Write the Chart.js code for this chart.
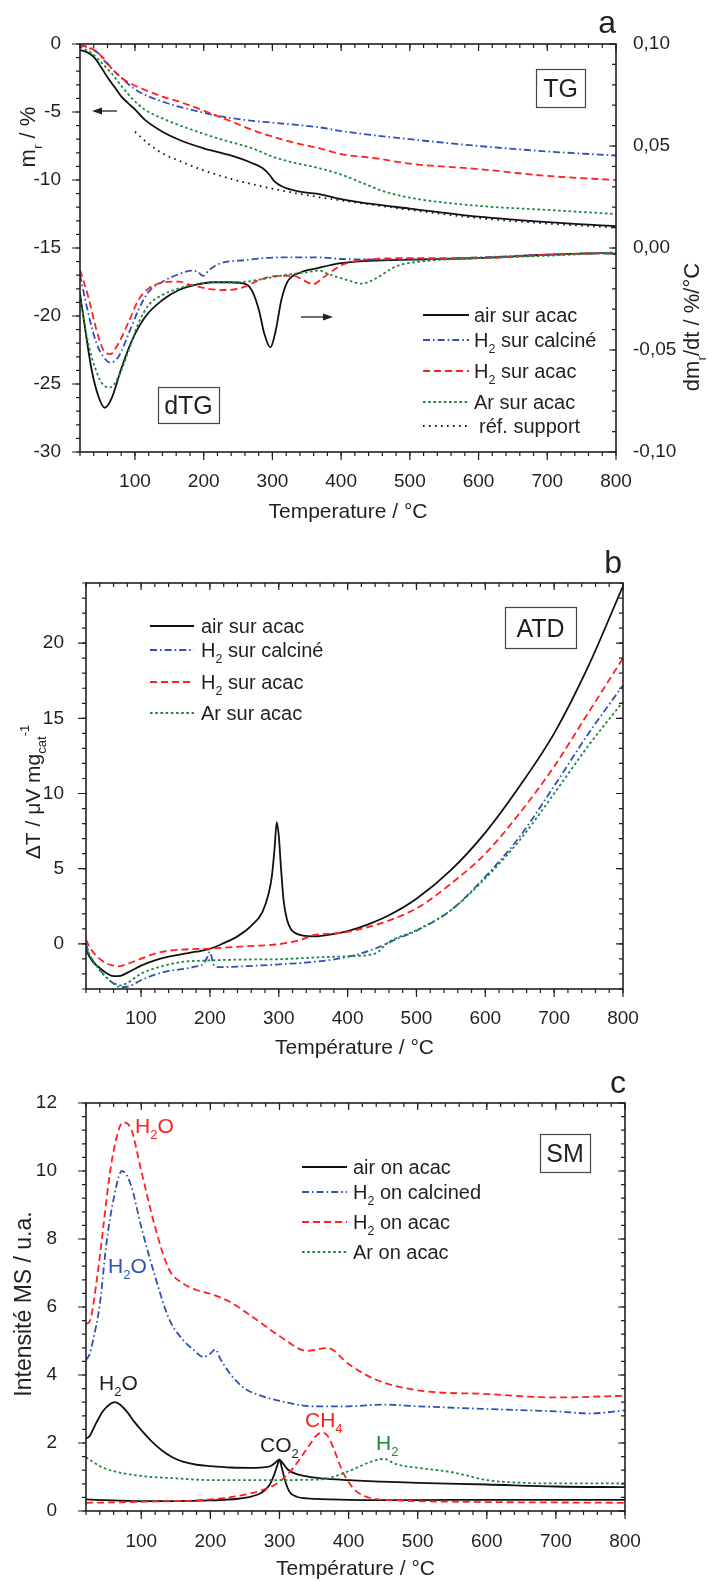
<!DOCTYPE html>
<html><head><meta charset="utf-8">
<script src="https://cdn.jsdelivr.net/npm/chart.js@4.4.1/dist/chart.umd.min.js"></script>
<style>
html,body{margin:0;padding:0;background:#fff;}
#wrap{position:relative;width:708px;height:1581px;overflow:hidden;background:#fff;}
canvas{position:absolute;left:0;}
</style></head><body>
<div id="wrap">
<canvas id="cA" width="708" height="530" style="top:0px"></canvas>
<canvas id="cB" width="708" height="530" style="top:530px"></canvas>
<canvas id="cC" width="708" height="521" style="top:1060px"></canvas>
</div>
<script>
// ================= DATA =================
// shared x axis
const xMajor = [100,200,300,400,500,600,700,800];

// ---- Panel a : TG (left axis, m_r / %) ----
const tgAirT = [20,30,40,50,60,70,80,90,100,115,140,165,200,237,270,286,296,303,315,340,370,400,450,500,600,700,800];
const tgAirM = [-0.44,-0.6,-0.95,-1.65,-2.45,-3.15,-3.85,-4.35,-4.8,-5.6,-6.45,-7.06,-7.67,-8.16,-8.75,-9.14,-9.63,-10.1,-10.5,-10.86,-11.05,-11.4,-11.8,-12.1,-12.7,-13.1,-13.4];
const tgH2cT = [20,30,47,55,66,81,98,115,140,164,200,222,261,310,369,400,500,600,700,800];
const tgH2cM = [-0.07,-0.25,-0.69,-1.2,-1.79,-2.52,-3.26,-3.75,-4.24,-4.61,-5.05,-5.3,-5.59,-5.83,-6.13,-6.4,-7.0,-7.5,-7.9,-8.2];
const tgH2aT = [20,37,52,66,81,98,115,140,164,198,222,247,271,300,335,369,400,450,500,600,700,800];
const tgH2aM = [-0.07,-0.32,-0.93,-1.79,-2.52,-3.01,-3.38,-3.87,-4.24,-4.85,-5.34,-5.83,-6.32,-6.81,-7.3,-7.67,-8.1,-8.4,-8.8,-9.2,-9.7,-10.0];
const tgArT = [20,37,52,66,81,98,115,140,164,198,237,271,300,335,369,400,430,460,500,600,700,800];
const tgArM = [-0.2,-0.69,-1.42,-2.16,-3.14,-4.12,-4.85,-5.47,-5.96,-6.57,-7.18,-7.67,-8.28,-8.77,-9.14,-9.6,-10.2,-10.8,-11.3,-11.9,-12.2,-12.5];
const tgRefT = [100,120,140,164,198,237,276,310,369,400,450,500,600,700,800];
const tgRefM = [-6.45,-7.35,-8.04,-8.58,-9.26,-9.88,-10.37,-10.74,-11.27,-11.5,-11.85,-12.2,-12.8,-13.2,-13.5];

// ---- Panel a : dTG (right axis, dm_r/dt / %/°C) ----
const dtgAirT = [20,27,37,47,56,66,81,96,115,140,164,188,213,237,262,271,281,288,297,305,313,322,340,364,400,500,600,700,780,800];
const dtgAirV = [-0.0222,-0.0386,-0.0598,-0.0729,-0.0783,-0.0737,-0.0582,-0.045,-0.0337,-0.0255,-0.0206,-0.0181,-0.0168,-0.0168,-0.0178,-0.0214,-0.0312,-0.0418,-0.0487,-0.0402,-0.0255,-0.0165,-0.0121,-0.0100,-0.0074,-0.0057,-0.0049,-0.0033,-0.0025,-0.003];
const dtgH2cT = [20,32,44,54,64,76,91,105,120,140,164,183,191,199,208,222,262,310,369,400,500,600,700,800];
const dtgH2cV = [-0.0132,-0.032,-0.0467,-0.0533,-0.0562,-0.0533,-0.0418,-0.0304,-0.0214,-0.0165,-0.0128,-0.0111,-0.0116,-0.0137,-0.0108,-0.0078,-0.0059,-0.0046,-0.0046,-0.0054,-0.0057,-0.0046,-0.0033,-0.0025];
const dtgH2aT = [20,32,44,54,64,76,91,105,120,140,164,178,203,232,257,281,305,330,349,359,375,400,430,500,600,700,800];
const dtgH2aV = [-0.0108,-0.0239,-0.0402,-0.05,-0.052,-0.0467,-0.0361,-0.0255,-0.0198,-0.017,-0.0165,-0.0178,-0.0198,-0.0206,-0.0193,-0.0157,-0.0137,-0.0136,-0.0165,-0.0178,-0.0142,-0.0085,-0.006,-0.005,-0.005,-0.0033,-0.0025];
const dtgArT = [20,32,44,54,64,76,91,105,120,140,164,188,213,237,262,291,320,349,369,380,410,430,450,480,520,600,700,800];
const dtgArV = [-0.0239,-0.0467,-0.0606,-0.0672,-0.0683,-0.0631,-0.05,-0.0369,-0.0279,-0.023,-0.0198,-0.0178,-0.0168,-0.017,-0.0165,-0.0149,-0.0132,-0.0119,-0.0111,-0.0126,-0.0158,-0.0175,-0.015,-0.009,-0.0065,-0.005,-0.0038,-0.0021];

const aLeftTicks = [0,-5,-10,-15,-20,-25,-30];
const aRightTicks = [0.10,0.05,0,-0.05,-0.10];

// ---- Panel b : ATD ----
const atdAirT = [20,25,30,40,50,60,70,85,100,120,140,160,180,200,220,240,260,276,285,290,294,297,300,303,307,312,318,325,335,350,370,400,430,460,500,550,600,650,700,750,800];
const atdAirV = [-0.4,-0.85,-1.2,-1.6,-1.95,-2.15,-2.12,-1.8,-1.45,-1.1,-0.85,-0.68,-0.52,-0.33,0.05,0.5,1.2,2.1,3.3,4.5,6.4,8.1,7.2,5.2,2.9,1.6,0.95,0.7,0.55,0.5,0.58,0.85,1.3,1.9,3.0,4.9,7.4,10.5,14.0,18.5,23.8];
const atdH2cT = [20,25,30,40,50,60,70,80,100,120,140,160,180,190,196,200,205,212,250,300,350,400,440,470,500,550,600,650,700,750,800];
const atdH2cV = [0,-0.7,-1.1,-1.7,-2.25,-2.64,-2.88,-2.85,-2.42,-2.05,-1.8,-1.68,-1.5,-1.35,-0.9,-0.53,-1.35,-1.55,-1.49,-1.36,-1.2,-0.87,-0.31,0.3,0.87,2.24,4.47,7.13,10.5,14.0,17.2];
const atdH2aT = [20,25,30,40,50,60,67,75,100,130,160,200,250,300,330,350,380,400,450,500,550,600,650,700,750,800];
const atdH2aV = [0.29,-0.2,-0.53,-1.0,-1.3,-1.45,-1.5,-1.42,-0.98,-0.53,-0.38,-0.31,-0.16,-0.02,0.24,0.58,0.69,0.8,1.4,2.36,4.0,6.0,8.7,11.8,15.4,19.0];
const atdArT = [20,25,30,40,50,60,70,80,100,130,160,200,250,300,350,400,440,460,500,550,600,650,700,750,800];
const atdArV = [-0.2,-0.7,-1.09,-1.75,-2.25,-2.6,-2.76,-2.6,-1.98,-1.49,-1.2,-1.1,-1.04,-1.02,-0.91,-0.82,-0.64,0.13,0.91,2.24,4.36,6.9,10.0,13.2,16.1];
const bTicks = [0,5,10,15,20];

// ---- Panel c : SM ----
const smAirH2OT = [20,25,35,45,55,62,70,80,90,100,115,130,145,160,180,200,230,260,280,288,294,300,305,312,320,335,360,400,500,600,700,800];
const smAirH2OV = [2.13,2.2,2.6,2.95,3.15,3.2,3.12,2.9,2.62,2.38,2.05,1.78,1.58,1.45,1.36,1.32,1.28,1.27,1.29,1.33,1.42,1.51,1.4,1.22,1.12,1.03,0.96,0.91,0.83,0.78,0.72,0.7];
const smAirCO2T = [20,60,100,150,200,240,260,275,285,292,297,300,303,308,315,325,340,400,500,600,700,800];
const smAirCO2V = [0.34,0.31,0.29,0.29,0.31,0.36,0.43,0.55,0.75,1.05,1.35,1.51,1.3,0.9,0.55,0.42,0.37,0.33,0.32,0.33,0.33,0.33];
const smH2cT = [20,25,30,40,50,60,72,85,100,120,140,160,175,190,200,207,215,230,250,275,300,350,400,450,500,600,700,750,800];
const smH2cV = [4.45,4.6,5.0,6.08,7.94,9.18,10.0,9.59,8.35,6.9,5.66,5.04,4.75,4.53,4.63,4.75,4.45,4.0,3.6,3.38,3.24,3.08,3.08,3.13,3.08,3.0,2.93,2.87,2.96];
const smH2aH2OT = [20,25,35,45,55,65,73,85,100,120,140,160,180,200,230,260,300,340,370,400,440,500,600,700,800];
const smH2aH2OV = [5.51,5.56,6.7,8.35,10.0,11.04,11.43,11.25,10.0,8.35,7.11,6.7,6.5,6.39,6.13,5.72,5.15,4.71,4.79,4.32,3.86,3.55,3.44,3.34,3.39];
const smH2aCH4T = [20,100,200,250,280,300,320,340,355,362,370,380,390,400,410,430,470,500,800];
const smH2aCH4V = [0.24,0.27,0.34,0.48,0.65,0.86,1.27,1.84,2.25,2.3,2.2,1.75,1.22,0.85,0.6,0.39,0.31,0.29,0.24];
const smArT = [20,40,60,100,150,200,300,360,400,430,450,470,500,550,600,650,700,800];
const smArV = [1.58,1.32,1.17,1.03,0.96,0.91,0.91,0.93,1.17,1.43,1.53,1.37,1.27,1.14,0.91,0.83,0.81,0.81];
const cTicks = [0,2,4,6,8,10,12];

// ================= STYLE / HELPERS =================
const FONT = '"Liberation Sans", Arial, Helvetica, sans-serif';
const INK = '#231f20';
const C_BLACK = '#111111', C_BLUE = '#3050b4', C_RED = '#ff2020', C_GREEN = '#1a8a3c';
const D_SOLID = [], D_DASHDOT = [7,3,1.6,3], D_DASH = [7,4], D_DOT = [2.6,2.6], D_REF = [1.6,4.4];
const LW = 1.8;

function range(a, b, step){ const r = []; for (let v = a; v <= b + 1e-9; v += step) r.push(+v.toFixed(4)); return r; }

function ds(xs, ys, color, dash, axis, w){
  return { data: xs.map((x,i)=>({x:x, y:ys[i]})), borderColor: color, borderWidth: w || LW,
    borderDash: dash, pointRadius: 0, fill: false, cubicInterpolationMode: 'monotone',
    yAxisID: axis || 'y' };
}

function richWidth(ctx, parts, size){
  let w = 0;
  for (const p of parts){ const s = p[1] ? size*0.62 : size; ctx.font = s + 'px ' + FONT; w += ctx.measureText(p[0]).width; }
  return w;
}
function drawRich(ctx, parts, x, y, size, color, align, rot){
  ctx.save();
  ctx.translate(x, y);
  if (rot) ctx.rotate(-Math.PI/2);
  const w = richWidth(ctx, parts, size);
  let cx = align === 'center' ? -w/2 : (align === 'right' ? -w : 0);
  const base = 0.36*size;
  ctx.fillStyle = color; ctx.textBaseline = 'alphabetic'; ctx.textAlign = 'left';
  for (const p of parts){
    const sub = p[1] === 'sub', sup = p[1] === 'sup';
    const s = (sub||sup) ? size*0.62 : size;
    ctx.font = s + 'px ' + FONT;
    const dy = sub ? 0.3*size : (sup ? -0.52*size : 0);
    ctx.fillText(p[0], cx, base + dy);
    cx += ctx.measureText(p[0]).width;
  }
  ctx.restore();
}

const decoPlugin = {
  id: 'deco',
  afterDraw(chart){
    const d = chart.options.plugins.deco; if (!d) return;
    const ctx = chart.ctx, a = chart.chartArea;
    ctx.save();
    ctx.setLineDash([]);
    ctx.strokeStyle = INK; ctx.lineWidth = 1.2;
    for (const t of d.ticks){
      const s = chart.scales[t.scale];
      ctx.beginPath();
      for (const v of t.values){
        const p = s.getPixelForValue(v);
        if (t.side === 'bottom'){ ctx.moveTo(p, a.bottom); ctx.lineTo(p, a.bottom + t.len); }
        else if (t.side === 'top'){ ctx.moveTo(p, a.top); ctx.lineTo(p, a.top - t.len); }
        else if (t.side === 'left'){ ctx.moveTo(a.left, p); ctx.lineTo(a.left - t.len, p); }
        else { ctx.moveTo(a.right, p); ctx.lineTo(a.right + t.len, p); }
      }
      ctx.stroke();
    }
    ctx.lineWidth = 1.6; ctx.strokeStyle = INK;
    ctx.strokeRect(a.left, a.top, a.right - a.left, a.bottom - a.top);
    for (const b of (d.boxes||[])){
      ctx.lineWidth = 1.2; ctx.strokeStyle = '#444';
      ctx.strokeRect(b.x + 0.5, b.y + 0.5, b.w, b.h);
      drawRich(ctx, [[b.text,'']], b.x + b.w/2, b.y + b.h/2, b.size, INK, 'center', false);
    }
    for (const t of (d.texts||[])){
      drawRich(ctx, t.parts, t.x, t.y, t.size, t.color || INK, t.align || 'left', !!t.rot);
    }
    for (const t of (d.letters||[])){
      ctx.font = t.size + 'px ' + FONT; ctx.fillStyle = INK; ctx.textAlign = 'right'; ctx.textBaseline = 'alphabetic';
      ctx.fillText(t.text, t.x, t.y);
    }
    for (const ar of (d.arrows||[])){
      ctx.strokeStyle = INK; ctx.fillStyle = INK; ctx.lineWidth = 1.3;
      const dir = Math.sign(ar.x2 - ar.x1);
      ctx.beginPath(); ctx.moveTo(ar.x1, ar.y); ctx.lineTo(ar.x2 - dir*6, ar.y); ctx.stroke();
      ctx.beginPath(); ctx.moveTo(ar.x2, ar.y); ctx.lineTo(ar.x2 - dir*10, ar.y - 3.5); ctx.lineTo(ar.x2 - dir*10, ar.y + 3.5); ctx.closePath(); ctx.fill();
    }
    if (d.legend){
      const L = d.legend;
      for (const r of L.rows){
        ctx.save();
        ctx.strokeStyle = r.color; ctx.lineWidth = LW; ctx.setLineDash(r.dash);
        ctx.beginPath(); ctx.moveTo(L.x1, r.y); ctx.lineTo(L.x2, r.y); ctx.stroke();
        ctx.restore();
        drawRich(ctx, r.parts, L.tx + (r.dx||0), r.y, L.size, INK, 'left', false);
      }
    }
    ctx.restore();
  }
};

function tickFont(){ return { size: 19, family: FONT }; }
function xAxis(h, pad){
  return { type: 'linear', position: 'bottom', min: 20, max: 800,
    afterBuildTicks: s => { s.ticks = xMajor.map(v => ({value: v})); },
    afterFit: s => { s.height = h; },
    grid: { display: false }, border: { display: false },
    ticks: { autoSkip: false, maxRotation: 0, padding: pad, color: INK, font: tickFont(), callback: v => String(v) } };
}
function yAxis(pos, min, max, ticks, w, pad, fmt){
  return { type: 'linear', position: pos, min: min, max: max,
    afterBuildTicks: s => { s.ticks = ticks.map(v => ({value: v})); },
    afterFit: s => { s.width = w; },
    grid: { display: false }, border: { display: false },
    ticks: { autoSkip: false, padding: pad, color: INK, font: tickFont(), callback: fmt || (v => String(v)) } };
}
function baseOptions(padding, scales, deco){
  return { responsive: false, animation: false, devicePixelRatio: 1,
    layout: { padding: padding }, scales: scales,
    plugins: { legend: { display: false }, tooltip: { enabled: false }, deco: deco } };
}

const xMinor = range(20, 800, 20);

// ================= PANEL A =================
new Chart(document.getElementById('cA'), {
  type: 'line',
  data: { datasets: [
    ds(tgRefT, tgRefM, C_BLACK, D_REF, 'y'),
    ds(tgArT, tgArM, C_GREEN, D_DOT, 'y'),
    ds(tgH2aT, tgH2aM, C_RED, D_DASH, 'y'),
    ds(tgH2cT, tgH2cM, C_BLUE, D_DASHDOT, 'y'),
    ds(tgAirT, tgAirM, C_BLACK, D_SOLID, 'y'),
    ds(dtgArT, dtgArV, C_GREEN, D_DOT, 'y2'),
    ds(dtgH2aT, dtgH2aV, C_RED, D_DASH, 'y2'),
    ds(dtgH2cT, dtgH2cV, C_BLUE, D_DASHDOT, 'y2'),
    ds(dtgAirT, dtgAirV, C_BLACK, D_SOLID, 'y2')
  ]},
  options: baseOptions({left: 0, top: 44, right: 0, bottom: 0}, {
    x: xAxis(78, 10),
    y: yAxis('left', -30, 0, aLeftTicks, 80, 11),
    y2: yAxis('right', -0.10, 0.10, aRightTicks, 92, 9, v => v.toFixed(2).replace('.', ','))
  }, {
    ticks: [
      {scale:'x', side:'bottom', values: xMajor, len: 8}, {scale:'x', side:'bottom', values: xMinor, len: 4},
      {scale:'x', side:'top', values: xMajor, len: -7}, {scale:'x', side:'top', values: xMinor, len: -4},
      {scale:'y', side:'left', values: aLeftTicks, len: 8}, {scale:'y', side:'left', values: range(-30, 0, 1), len: 4},
      {scale:'y2', side:'right', values: aRightTicks, len: -7}, {scale:'y2', side:'right', values: range(-0.10, 0.10, 0.01), len: -4}
    ],
    boxes: [ {x:536, y:69, w:49, h:38, text:'TG', size:25}, {x:158, y:387, w:61, h:36, text:'dTG', size:25} ],
    texts: [
      {parts:[['m',''],['r','sub'],[' / %','']], x:27, y:137, size:22, align:'center', rot:true},
      {parts:[['dm',''],['r','sub'],['/dt / %/°C','']], x:691, y:327, size:22, align:'center', rot:true},
      {parts:[['Temperature / °C','']], x:348, y:510, size:21, align:'center'}
    ],
    letters: [ {text:'a', x:616, y:33, size:32} ],
    arrows: [ {x1:117, x2:92, y:111}, {x1:301, x2:333, y:317} ],
    legend: { x1:423, x2:469, tx:474, size:20, rows: [
      {y:315, color:C_BLACK, dash:D_SOLID, parts:[['air sur acac','']]},
      {y:340, color:C_BLUE, dash:D_DASHDOT, parts:[['H',''],['2','sub'],[' sur calciné','']]},
      {y:371, color:C_RED, dash:D_DASH, parts:[['H',''],['2','sub'],[' sur acac','']]},
      {y:402, color:C_GREEN, dash:D_DOT, parts:[['Ar sur acac','']]},
      {y:426, color:C_BLACK, dash:D_REF, parts:[['réf. support','']], dx:5}
    ]}
  }),
  plugins: [decoPlugin]
});

// ================= PANEL B =================
new Chart(document.getElementById('cB'), {
  type: 'line',
  data: { datasets: [
    ds(atdArT, atdArV, C_GREEN, D_DOT),
    ds(atdH2cT, atdH2cV, C_BLUE, D_DASHDOT),
    ds(atdH2aT, atdH2aV, C_RED, D_DASH),
    ds(atdAirT, atdAirV, C_BLACK, D_SOLID)
  ]},
  options: baseOptions({left: 0, top: 53, right: 85, bottom: 0}, {
    x: xAxis(71, 10),
    y: yAxis('left', -3, 24, bTicks, 86, 14)
  }, {
    ticks: [
      {scale:'x', side:'bottom', values: xMajor, len: 8}, {scale:'x', side:'bottom', values: xMinor, len: 4},
      {scale:'x', side:'top', values: xMajor, len: -7}, {scale:'x', side:'top', values: xMinor, len: -4},
      {scale:'y', side:'left', values: bTicks, len: 8}, {scale:'y', side:'left', values: range(-3, 24, 1), len: 4},
      {scale:'y', side:'right', values: bTicks, len: -7}, {scale:'y', side:'right', values: range(-3, 24, 1), len: -4}
    ],
    boxes: [ {x:505, y:77, w:71, h:41, text:'ATD', size:25} ],
    texts: [
      {parts:[['ΔT / μV mg',''],['cat','sub'],['-1','sup']], x:32, y:262, size:21, align:'center', rot:true},
      {parts:[['Température / °C','']], x:354.5, y:516, size:21, align:'center'}
    ],
    letters: [ {text:'b', x:622, y:43, size:32} ],
    legend: { x1:150, x2:194, tx:201, size:20, rows: [
      {y:96, color:C_BLACK, dash:D_SOLID, parts:[['air sur acac','']]},
      {y:120, color:C_BLUE, dash:D_DASHDOT, parts:[['H',''],['2','sub'],[' sur calciné','']]},
      {y:152, color:C_RED, dash:D_DASH, parts:[['H',''],['2','sub'],[' sur acac','']]},
      {y:183, color:C_GREEN, dash:D_DOT, parts:[['Ar sur acac','']]}
    ]}
  }),
  plugins: [decoPlugin]
});

// ================= PANEL C =================
new Chart(document.getElementById('cC'), {
  type: 'line',
  data: { datasets: [
    ds(smArT, smArV, C_GREEN, D_DOT),
    ds(smH2cT, smH2cV, C_BLUE, D_DASHDOT),
    ds(smH2aH2OT, smH2aH2OV, C_RED, D_DASH),
    ds(smH2aCH4T, smH2aCH4V, C_RED, D_DASH),
    ds(smAirCO2T, smAirCO2V, C_BLACK, D_SOLID),
    ds(smAirH2OT, smAirH2OV, C_BLACK, D_SOLID)
  ]},
  options: baseOptions({left: 0, top: 43, right: 83, bottom: 0}, {
    x: xAxis(70, 11),
    y: yAxis('left', 0, 12, cTicks, 86, 21)
  }, {
    ticks: [
      {scale:'x', side:'bottom', values: xMajor, len: 8}, {scale:'x', side:'bottom', values: xMinor, len: 4},
      {scale:'x', side:'top', values: xMajor, len: -7}, {scale:'x', side:'top', values: xMinor, len: -4},
      {scale:'y', side:'left', values: cTicks, len: 8}, {scale:'y', side:'left', values: range(0, 12, 0.4), len: 4},
      {scale:'y', side:'right', values: cTicks, len: -7}, {scale:'y', side:'right', values: range(0, 12, 0.4), len: -4}
    ],
    boxes: [ {x:540, y:74, w:50, h:38, text:'SM', size:25} ],
    texts: [
      {parts:[['Intensité MS / u.a.','']], x:23, y:244, size:23, align:'center', rot:true},
      {parts:[['Température / °C','']], x:355.5, y:507, size:21, align:'center'},
      {parts:[['H',''],['2','sub'],['O','']], x:135, y:65, size:21, color:C_RED},
      {parts:[['H',''],['2','sub'],['O','']], x:108, y:205, size:21, color:C_BLUE},
      {parts:[['H',''],['2','sub'],['O','']], x:99, y:322, size:21, color:INK},
      {parts:[['CO',''],['2','sub']], x:260, y:384, size:21, color:INK},
      {parts:[['CH',''],['4','sub']], x:305, y:359, size:21, color:C_RED},
      {parts:[['H',''],['2','sub']], x:376, y:382, size:21, color:C_GREEN}
    ],
    letters: [ {text:'c', x:626, y:33, size:32} ],
    legend: { x1:302, x2:347, tx:353, size:20, rows: [
      {y:107, color:C_BLACK, dash:D_SOLID, parts:[['air on acac','']]},
      {y:132, color:C_BLUE, dash:D_DASHDOT, parts:[['H',''],['2','sub'],[' on calcined','']]},
      {y:162, color:C_RED, dash:D_DASH, parts:[['H',''],['2','sub'],[' on acac','']]},
      {y:192, color:C_GREEN, dash:D_DOT, parts:[['Ar on acac','']]}
    ]}
  }),
  plugins: [decoPlugin]
});
</script>
</body></html>
